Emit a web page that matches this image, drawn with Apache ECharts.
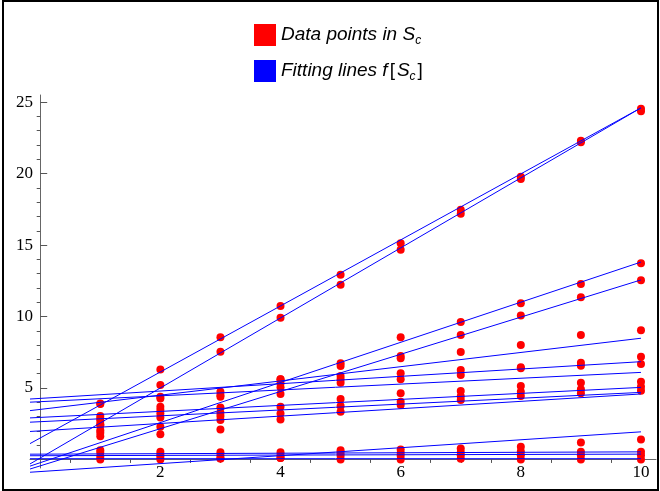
<!DOCTYPE html>
<html><head><meta charset="utf-8">
<script src="https://cdn.jsdelivr.net/npm/echarts@6/dist/echarts.min.js"></script>
<style>
html,body{margin:0;padding:0;background:#fff;}
#c{position:absolute;left:0;top:0;width:660px;height:491px;}
#frame{position:absolute;left:2px;top:0px;width:653px;height:487px;border:2px solid #000;pointer-events:none;}
</style>
</head><body>
<div id="c"></div><div id="frame"></div>
<script>
// ---------- data ----------
const xValues = [1, 2, 3, 4, 5, 6, 7, 8, 9, 10];
const seriesA = [3.92, 6.30, 8.55, 10.74, 12.92, 15.13, 17.47, 19.78, 22.30, 24.53];
const seriesB = [2.40, 5.21, 7.54, 9.92, 12.22, 14.67, 17.19, 19.62, 22.20, 24.36];
const seriesC = [1.86, 2.29, 3.64, 5.61, 6.73, 8.55, 9.62, 10.93, 12.28, 13.73];
const seriesD = [1.63, 1.77, 3.03, 4.58, 6.54, 7.24, 8.71, 10.07, 11.35, 12.54];
const seriesE = [3.88, 4.39, 4.74, 5.61, 5.84, 7.08, 7.52, 8.01, 8.71, 9.04];
const seriesF = [3.03, 4.27, 4.51, 5.33, 5.61, 6.03, 6.26, 6.45, 6.77, 7.19];
const seriesG = [2.87, 3.69, 4.39, 5.05, 5.37, 5.61, 5.91, 6.38, 6.56, 6.68];
const seriesH = [2.71, 3.45, 3.27, 3.69, 4.23, 4.63, 4.78, 5.14, 5.37, 5.44];
const seriesI = [2.47, 3.22, 2.75, 3.22, 3.74, 4.04, 4.42, 4.74, 4.91, 5.09];
const seriesJ = [2.05, 2.94, 2.10, 2.80, 3.34, 3.81, 4.16, 4.44, 4.63, 4.81];
const seriesK = [0.00, 0.00, 0.07, 0.10, 0.65, 0.70, 0.77, 0.88, 1.19, 1.40];
const seriesL = [0.65, 0.53, 0.50, 0.50, 0.45, 0.45, 0.50, 0.55, 0.53, 0.53];
const seriesM = [0.46, 0.35, 0.30, 0.30, 0.25, 0.25, 0.30, 0.30, 0.30, 0.30];
const seriesN = [0.18, 0.18, 0.07, 0.10, 0.00, 0.00, 0.05, 0.00, 0.00, 0.00];
const allSeries = [seriesA, seriesB, seriesC, seriesD, seriesE, seriesF, seriesG,
                   seriesH, seriesI, seriesJ, seriesK, seriesL, seriesM, seriesN];

// fitted lines: value at x = 0 and at x = 10
const fitAt0  = [1.50, 0.10, -0.23, -0.45, 3.50, 4.27, 4.04, 2.94, 2.64, 2.00, -0.85, 0.37, 0.26, 0.05];
const fitAt10 = [24.60, 24.60, 13.81, 12.56, 8.48, 6.84, 6.09, 5.04, 4.69, 4.58, 1.93, 0.53, 0.37, 0.05];
const lineFromX = -0.17, lineToX = 10;

const xMajorTicks = [0, 2, 4, 6, 8, 10];
const xMinorTicks = [0.5, 1, 1.5, 2.5, 3, 3.5, 4.5, 5, 5.5, 6.5, 7, 7.5, 8.5, 9, 9.5];
const xTickLabels = [2, 4, 6, 8, 10];
const yMajorTicks = [0, 5, 10, 15, 20, 25];
const yMinorTicks = [1, 2, 3, 4, 6, 7, 8, 9, 11, 12, 13, 14, 16, 17, 18, 19, 21, 22, 23, 24];
const yTickLabels = [5, 10, 15, 20, 25];

const nameData = 'Data points in S_c';
const nameFit = 'Fitting lines f[S_c]';

// ---------- chart ----------
const chart = echarts.init(document.getElementById('c'), null, {renderer: 'canvas'});

const points = [];
allSeries.forEach(s => s.forEach((v, i) => points.push([xValues[i], v])));

const series = [{
  name: nameData, type: 'scatter', data: points, symbolSize: 8,
  itemStyle: {color: '#ff0000', opacity: 1}, z: 2, silent: true
}];
fitAt0.forEach((a, k) => {
  const slope = (fitAt10[k] - a) / 10;
  series.push({
    name: nameFit, type: 'line', symbol: 'none', clip: false, silent: true, z: 3,
    lineStyle: {color: '#0000ff', width: 1},
    itemStyle: {color: '#0000ff'},
    data: [[lineFromX, a + slope * lineFromX], [lineToX, fitAt10[k]]]
  });
});

const tickColor = '#555';
const axisFont = {fontFamily: "'Liberation Serif', 'Times New Roman', serif", fontSize: 17, color: '#000'};

chart.setOption({
  animation: false,
  backgroundColor: 'transparent',
  grid: {left: 30, right: 4, top: 95, bottom: 23, containLabel: false},
  legend: {
    orient: 'vertical', left: 249, top: 19, itemWidth: 22, itemHeight: 22, itemGap: 13,
    data: [{name: nameData, icon: 'rect', itemStyle: {color: '#ff0000'}},
           {name: nameFit, icon: 'rect', itemStyle: {color: '#0000ff'}}],
    selectedMode: false,
    formatter: function (n) {
      if (n === nameData) return '{t|Data points in }{t|S}{s|c}';
      return '{t|Fitting lines }{t|f}{u|[}{t|S}{s|c}{u|]}';
    },
    textStyle: {
      rich: {
        t: {fontFamily: 'Liberation Sans', fontStyle: 'italic', fontSize: 19, color: '#000', lineHeight: 24},
        u: {fontFamily: 'Liberation Sans', fontSize: 19, color: '#000', lineHeight: 24, padding: [0, 2, 0, 2]},
        s: {fontFamily: 'Liberation Sans', fontStyle: 'italic', fontSize: 12, color: '#000', lineHeight: 15, verticalAlign: 'bottom'}
      }
    }
  },
  xAxis: [{
    type: 'value', min: -0.17, max: 10.25,
    axisLine: {show: true, onZero: true, onZeroAxisIndex: 0, lineStyle: {color: '#666', width: 1}},
    axisTick: {show: true, inside: true, length: 7, customValues: xMajorTicks, lineStyle: {color: tickColor}},
    axisLabel: Object.assign({customValues: xTickLabels, margin: -4}, axisFont),
    splitLine: {show: false}
  }, {
    type: 'value', min: -0.17, max: 10.25,
    axisLine: {show: false, onZero: true, onZeroAxisIndex: 0},
    axisTick: {show: true, inside: true, length: 3.5, customValues: xMinorTicks, lineStyle: {color: tickColor}},
    axisLabel: {show: false},
    splitLine: {show: false}
  }],
  yAxis: [{
    type: 'value', min: -0.6, max: 25.5,
    axisLine: {show: true, onZero: true, onZeroAxisIndex: 0, lineStyle: {color: '#666', width: 1}},
    axisTick: {show: true, inside: true, length: 7, customValues: yMajorTicks, lineStyle: {color: tickColor}},
    axisLabel: Object.assign({customValues: yTickLabels, margin: -3}, axisFont),
    splitLine: {show: false}
  }, {
    type: 'value', min: -0.6, max: 25.5,
    axisLine: {show: false, onZero: true, onZeroAxisIndex: 0},
    axisTick: {show: true, inside: true, length: 3.5, customValues: yMinorTicks, lineStyle: {color: tickColor}},
    axisLabel: {show: false},
    splitLine: {show: false}
  }],
  series: series
});
</script>
</body></html>
